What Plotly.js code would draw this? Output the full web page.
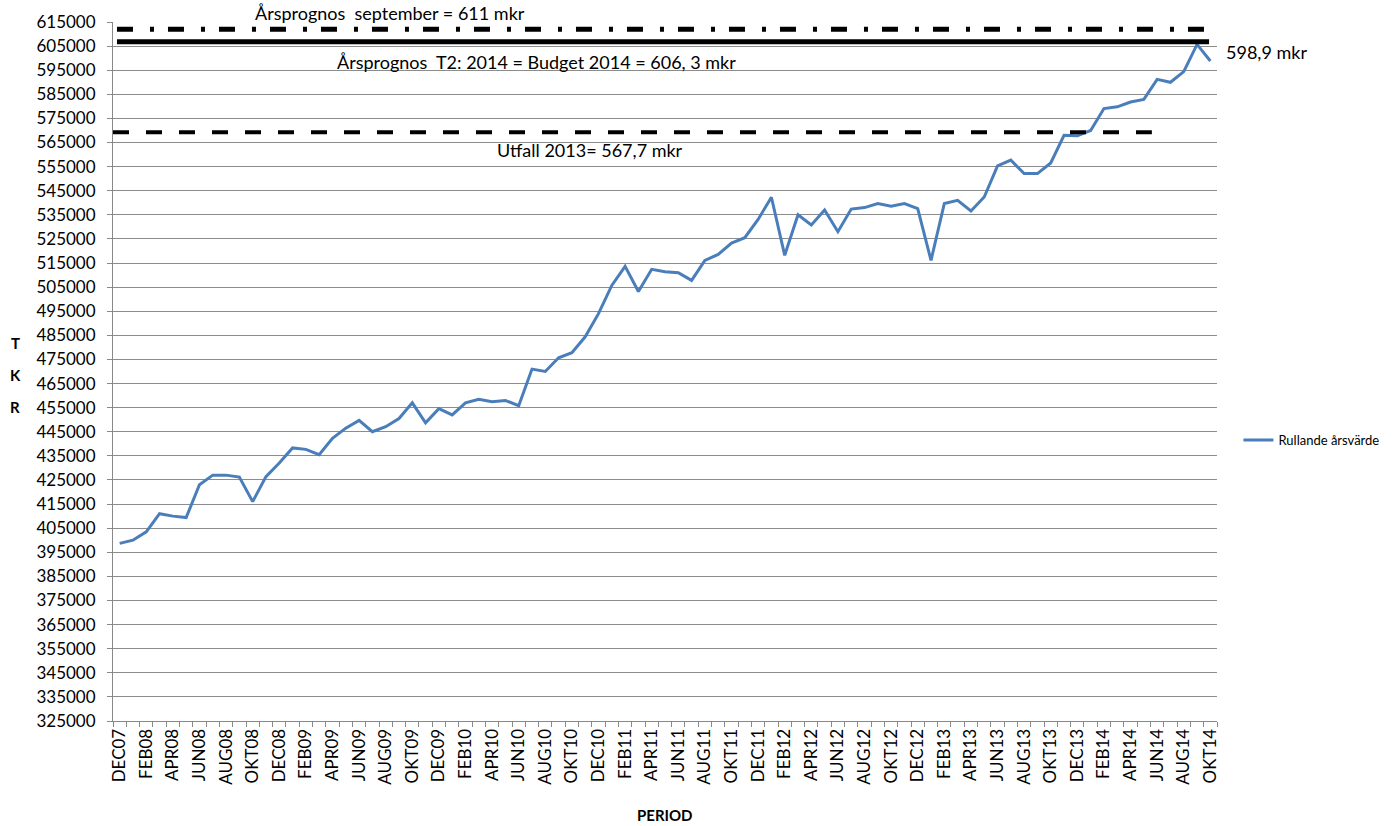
<!DOCTYPE html>
<html>
<head>
<meta charset="utf-8">
<script src="https://cdn.plot.ly/plotly-3.0.1.min.js"></script>
<style>html,body{margin:0;padding:0;background:#fff;}#chart{width:1395px;height:826px;}</style>
</head>
<body>
<div id="chart"></div>
<script>
const categories = [
 "DEC07",
 "JAN08","FEB08","MAR08","APR08","MAJ08","JUN08","JUL08","AUG08","SEP08","OKT08","NOV08","DEC08",
 "JAN09","FEB09","MAR09","APR09","MAJ09","JUN09","JUL09","AUG09","SEP09","OKT09","NOV09","DEC09",
 "JAN10","FEB10","MAR10","APR10","MAJ10","JUN10","JUL10","AUG10","SEP10","OKT10","NOV10","DEC10",
 "JAN11","FEB11","MAR11","APR11","MAJ11","JUN11","JUL11","AUG11","SEP11","OKT11","NOV11","DEC11",
 "JAN12","FEB12","MAR12","APR12","MAJ12","JUN12","JUL12","AUG12","SEP12","OKT12","NOV12","DEC12",
 "JAN13","FEB13","MAR13","APR13","MAJ13","JUN13","JUL13","AUG13","SEP13","OKT13","NOV13","DEC13",
 "JAN14","FEB14","MAR14","APR14","MAJ14","JUN14","JUL14","AUG14","SEP14","OKT14"
];
const rullandeArsvarde = [
 398700,
 400000,403500,411000,410000,409400,423000,427000,427000,426200,416000,426400,432000,
 438300,437700,435500,442300,446500,449700,445000,447100,450500,457000,448700,454600,
 452000,457000,458500,457500,458000,455800,471000,470000,475700,477800,484400,494000,
 505700,513600,503200,512400,511400,511000,507800,516100,518600,523300,525500,533100,
 542300,518200,535000,530800,537000,528000,537400,538000,539700,538600,539700,537600,
 516100,539700,541000,536600,542400,555300,557700,552100,552100,556500,568000,567800,
 570000,579100,579800,581800,582900,591200,590000,594400,605700,598800
];
const seriesName = "Rullande årsvärde";
const yTicks = [325000,335000,345000,355000,365000,375000,385000,395000,405000,415000,425000,435000,445000,455000,465000,475000,485000,495000,505000,515000,525000,535000,545000,555000,565000,575000,585000,595000,605000,615000];
const refSeptember = 612000;
const refBudget = 606800;
const refUtfall = 569300;
const labelSeptember = "Årsprognos  september = 611 mkr";
const labelBudget = "Årsprognos  T2: 2014 = Budget 2014 = 606, 3 mkr";
const labelUtfall = "Utfall 2013= 567,7 mkr";
const labelLast = "598,9 mkr";

const tickText = categories.map((c, i) => (i % 2 === 0 ? c : ""));
const FONT = "Lato, 'Open Sans', sans-serif";

const trace = {
  type: "scatter",
  mode: "lines",
  x: categories,
  y: rullandeArsvarde,
  name: seriesName,
  line: {color: "#4a7ebb", width: 3},
  showlegend: true
};

const layout = {
  width: 1395, height: 826,
  margin: {l: 113, r: 177, t: 22, b: 105},
  paper_bgcolor: "#fff", plot_bgcolor: "#fff",
  font: {family: FONT, color: "#000"},
  showlegend: true,
  legend: {x: 1.0185, y: 0.402, xanchor: "left", yanchor: "middle",
           font: {family: FONT, size: 13, color: "#000"}, bgcolor: "rgba(0,0,0,0)"},
  xaxis: {
    type: "category", range: [-0.5, 82.5],
    tickmode: "array", tickvals: categories, ticktext: tickText,
    tickson: "boundaries", ticks: "outside", ticklen: 5, tickcolor: "#888",
    showline: true, linecolor: "#888", linewidth: 1, showgrid: false,
    tickangle: -90, tickfont: {family: FONT, size: 17, color: "#000"},
    automargin: false, fixedrange: true
  },
  yaxis: {
    range: [325000, 615000], tickmode: "array", tickvals: yTicks, tickformat: "d",
    showgrid: true, gridcolor: "#8c8c8c", gridwidth: 1, zeroline: false,
    showline: true, linecolor: "#888", linewidth: 1,
    ticks: "outside", ticklen: 5, tickcolor: "#888",
    ticklabelstandoff: 8,
    tickfont: {family: FONT, size: 17, color: "#000"},
    automargin: false, fixedrange: true
  },
  shapes: [
    {type: "line", xref: "paper", yref: "y", x0: 0.0036, x1: 0.9928, y0: refSeptember, y1: refSeptember,
     line: {color: "#000", width: 5, dash: "16px,17px,4px,14px"}, layer: "above"},
    {type: "line", xref: "paper", yref: "y", x0: 0.0036, x1: 0.9928, y0: refBudget, y1: refBudget,
     line: {color: "#000", width: 5}, layer: "above"},
    {type: "line", xref: "paper", yref: "y", x0: 0.0, x1: 0.941, y0: refUtfall, y1: refUtfall,
     line: {color: "#000", width: 4, dash: "16px,17px"}, layer: "above"}
  ],
  annotations: [
    {xref: "paper", yref: "paper", x: 0.2507, y: 1.0129, text: labelSeptember, showarrow: false,
     xanchor: "center", yanchor: "middle", font: {family: FONT, size: 18, color: "#000"}},
    {xref: "paper", yref: "y", x: 0.3833, y: 598400, text: labelBudget, showarrow: false,
     xanchor: "center", yanchor: "middle", font: {family: FONT, size: 18, color: "#000"}},
    {xref: "paper", yref: "y", x: 0.4317, y: 561800, text: labelUtfall, showarrow: false,
     xanchor: "center", yanchor: "middle", font: {family: FONT, size: 18, color: "#000"}},
    {xref: "paper", yref: "y", x: 1.0063, y: 602500, text: labelLast, showarrow: false,
     xanchor: "left", yanchor: "middle", font: {family: FONT, size: 18, color: "#000"}},
    {xref: "paper", yref: "paper", x: -0.0887, y: 0.541, text: "<b>T</b>", showarrow: false,
     xanchor: "center", yanchor: "middle", font: {family: FONT, size: 15, color: "#000"}},
    {xref: "paper", yref: "paper", x: -0.0887, y: 0.495, text: "<b>K</b>", showarrow: false,
     xanchor: "center", yanchor: "middle", font: {family: FONT, size: 15, color: "#000"}},
    {xref: "paper", yref: "paper", x: -0.0887, y: 0.449, text: "<b>R</b>", showarrow: false,
     xanchor: "center", yanchor: "middle", font: {family: FONT, size: 15, color: "#000"}},
    {xref: "paper", yref: "paper", x: 0.5, y: -0.1345, text: "<b>PERIOD</b>", showarrow: false,
     xanchor: "center", yanchor: "middle", font: {family: FONT, size: 15, color: "#000"}}
  ]
};

Plotly.newPlot("chart", [trace], layout, {displayModeBar: false, staticPlot: true});
</script>
</body>
</html>
